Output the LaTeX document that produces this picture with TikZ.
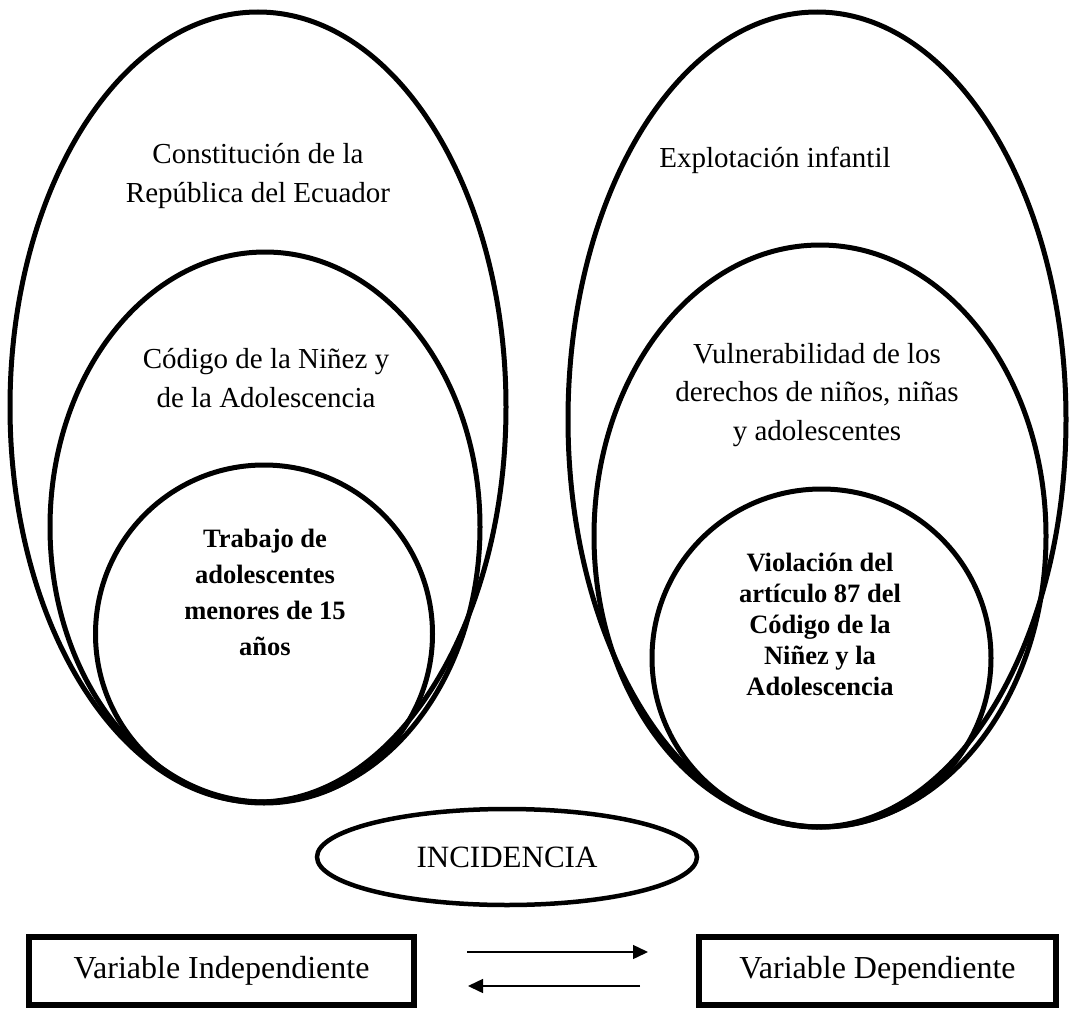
\documentclass[tikz,border=0pt]{standalone}
\usepackage{fontspec}
\setmainfont{Liberation Serif}
\usetikzlibrary{shapes.geometric,arrows.meta}
\begin{document}
\begin{tikzpicture}[x=1pt,y=-1pt,
  ring/.style={draw, ellipse, line width=5pt, inner sep=0pt},
  lbl/.style={align=center, anchor=base, font=\fontsize{29}{39}\selectfont, inner sep=0pt},
  blbl/.style={align=center, anchor=base, font=\bfseries\fontsize{26.5}{36}\selectfont, inner sep=0pt},
  varbox/.style={draw, line width=5.5pt, inner sep=0pt, font=\fontsize{32}{38}\selectfont},
  flow/.style={line width=1.5pt, -{Triangle[length=15pt,width=14pt]}}
]
\useasboundingbox (0,0) rectangle (1069,1009);

% left nest
\node[ring, minimum width=496pt, minimum height=790pt] (LO) at (258,407) {};
\node[ring, minimum width=430pt, minimum height=550pt] (LM) at (265,527) {};
\node[ring, minimum width=337pt, minimum height=338pt] (LI) at (264,634) {};

% right nest
\node[ring, minimum width=498pt, minimum height=815pt] (RO) at (817,419.5) {};
\node[ring, minimum width=452pt, minimum height=582pt] (RM) at (820,536) {};
\node[ring, minimum width=339pt, minimum height=338pt] (RI) at (821.5,658) {};

% texts (base anchor = baseline of the last line)
\node[lbl] (tLO) at (258,202) {Constitución de la\\República del Ecuador};
\node[lbl] (tLM) at (266,407) {Código de la Niñez y\\de la Adolescencia};
\node[blbl] (tLI) at (265,655) {Trabajo de\\adolescentes\\menores de 15\\años};

\node[lbl] (tRO) at (775,167) {Explotación infantil};
\node[lbl, font=\fontsize{29}{38.5}\selectfont] (tRM) at (817,440) {Vulnerabilidad de los\\derechos de niños, niñas\\y adolescentes};
\node[blbl, font=\bfseries\fontsize{26.5}{31}\selectfont] (tRI) at (820,695) {Violación del\\artículo 87 del\\Código de la\\Niñez y la\\Adolescencia};

% incidencia
\node[draw, ellipse, line width=4.5pt, inner sep=0pt, minimum width=380pt, minimum height=96pt,
      font=\fontsize{31}{37}\selectfont] (inc) at (507,857) {INCIDENCIA};

% boxes
\node[varbox, minimum width=385pt, minimum height=68pt] (vi) at (221.5,971) {Variable Independiente};
\node[varbox, minimum width=357pt, minimum height=68pt] (vd) at (877.5,971) {Variable Dependiente};

% arrows
\coordinate (a1s) at (467,952);
\coordinate (a1e) at (648,952);
\coordinate (a2s) at (640,986);
\coordinate (a2e) at (468,986);
\draw[flow] (a1s) -- (a1e);
\draw[flow] (a2s) -- (a2e);
\end{tikzpicture}
\end{document}
